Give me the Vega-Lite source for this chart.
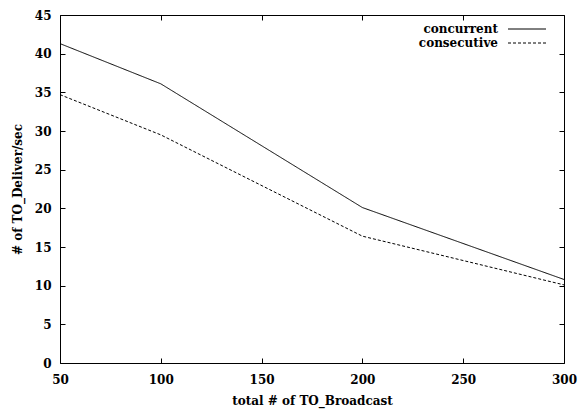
{
  "$schema": "https://vega.github.io/schema/vega-lite/v6.json",
  "width": 504,
  "height": 348,
  "autosize": {"type": "none"},
  "padding": {"left": 60, "top": 15, "right": 21, "bottom": 52},
  "background": "white",
  "config": {
    "font": "DejaVu Serif",
    "view": {"stroke": null},
    "axis": {
      "labelFont": "DejaVu Serif", "labelFontWeight": "bold", "labelFontSize": 12, "labelColor": "black",
      "titleFont": "DejaVu Serif", "titleFontWeight": "bold", "titleFontSize": 12, "titleColor": "black",
      "domainColor": "black", "domainWidth": 1, "tickColor": "black", "tickWidth": 1, "tickSize": 5,
      "grid": false, "labelFlush": false
    },
    "legend": {
      "labelFont": "DejaVu Serif", "labelFontWeight": "bold", "labelFontSize": 12, "labelColor": "black"
    }
  },
  "data": {
    "values": [
      {"series": "concurrent", "x": 50, "y": 41.3},
      {"series": "concurrent", "x": 100, "y": 36.1},
      {"series": "concurrent", "x": 200, "y": 20.1},
      {"series": "concurrent", "x": 300, "y": 10.8},
      {"series": "consecutive", "x": 50, "y": 34.7},
      {"series": "consecutive", "x": 100, "y": 29.5},
      {"series": "consecutive", "x": 200, "y": 16.4},
      {"series": "consecutive", "x": 300, "y": 10.1}
    ]
  },
  "resolve": {"axis": {"x": "independent", "y": "independent"}},
  "layer": [
    {
      "mark": {"type": "line", "color": "black", "strokeWidth": 1},
      "encoding": {
        "x": {"field": "x", "type": "quantitative", "scale": {"domain": [50, 300], "nice": false, "zero": false},
          "axis": {"orient": "bottom", "values": [50, 100, 150, 200, 250, 300], "ticks": false, "title": "total # of TO_Broadcast", "labelPadding": 11, "titlePadding": 10}},
        "y": {"field": "y", "type": "quantitative", "scale": {"domain": [0, 45], "nice": false},
          "axis": {"orient": "left", "values": [0, 5, 10, 15, 20, 25, 30, 35, 40, 45], "ticks": false, "title": "# of TO_Deliver/sec", "labelPadding": 9, "titlePadding": 10}},
        "strokeDash": {"field": "series", "type": "nominal",
          "scale": {"domain": ["concurrent", "consecutive"], "range": [[1, 0], [3, 2]]},
          "legend": {"title": null, "orient": "none", "legendX": 461, "legendY": 8, "symbolType": "M-3.8,0H3.8", "symbolSize": 100, "symbolStrokeColor": "black", "symbolStrokeWidth": 1, "labelAlign": "right", "labelOffset": -35, "rowPadding": 2}}
      }
    },
    {
      "mark": {"type": "line", "color": "black", "opacity": 0},
      "encoding": {
        "x": {"field": "x", "type": "quantitative", "scale": {"domain": [50, 300], "nice": false, "zero": false},
          "axis": {"orient": "top", "offset": -348, "values": [50, 100, 150, 200, 250, 300], "labels": false, "domain": false, "title": null}},
        "y": {"field": "y", "type": "quantitative", "scale": {"domain": [0, 45], "nice": false},
          "axis": {"orient": "right", "offset": -504, "values": [0, 5, 10, 15, 20, 25, 30, 35, 40, 45], "labels": false, "domain": false, "title": null}}
      }
    },
    {
      "mark": {"type": "line", "color": "black", "opacity": 0},
      "encoding": {
        "x": {"field": "x", "type": "quantitative", "scale": {"domain": [50, 300], "nice": false, "zero": false},
          "axis": {"orient": "bottom", "offset": -348, "values": [50, 100, 150, 200, 250, 300], "labels": false, "title": null}},
        "y": {"field": "y", "type": "quantitative", "scale": {"domain": [0, 45], "nice": false},
          "axis": {"orient": "left", "offset": -504, "values": [0, 5, 10, 15, 20, 25, 30, 35, 40, 45], "labels": false, "title": null}}
      }
    }
  ]
}
